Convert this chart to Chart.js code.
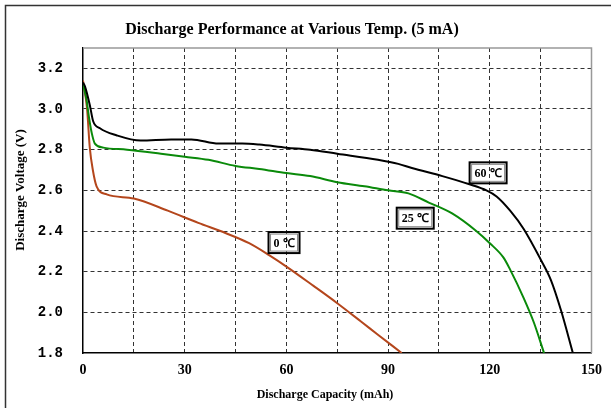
<!DOCTYPE html>
<html>
<head>
<meta charset="utf-8">
<script src="https://cdn.jsdelivr.net/npm/chart.js@4.4.1/dist/chart.umd.min.js"></script>
<style>
  html, body { margin: 0; padding: 0; background: #fff; }
  #wrap { width: 611px; height: 408px; }
</style>
</head>
<body>
<div id="wrap"><canvas id="chart" width="611" height="408"></canvas></div>
<script>
// capacity (mAh) and voltage (V)
let cap60 = [0, 0.6, 2, 3, 5, 10, 17, 26, 32, 40, 47, 52, 60, 67, 75, 87, 93, 97, 106, 114, 119, 122, 126, 130, 135, 138, 141, 144.5]
let volt60 = [3.13, 3.11, 3.02, 2.94, 2.905, 2.87, 2.845, 2.85, 2.85, 2.83, 2.83, 2.825, 2.81, 2.80, 2.78, 2.75, 2.73, 2.71, 2.67, 2.63, 2.60, 2.57, 2.50, 2.41, 2.26, 2.16, 2.01, 1.8]

let cap25 = [0, 1, 1.8, 2.6, 3.5, 6, 13, 23, 30, 37, 45, 52, 60, 67, 75, 83, 90, 96, 102, 109, 116, 120, 124, 126, 130, 133, 136]
let volt25 = [3.12, 3.05, 2.955, 2.88, 2.83, 2.81, 2.80, 2.78, 2.765, 2.75, 2.72, 2.705, 2.685, 2.67, 2.64, 2.62, 2.60, 2.585, 2.54, 2.485, 2.40, 2.34, 2.27, 2.21, 2.07, 1.95, 1.8]

let cap0 = [0, 1.2, 2, 2.9, 4, 7, 15, 25, 34, 42, 49, 55, 60, 68, 75, 82, 87, 94]
let volt0 = [3.14, 3.0, 2.81, 2.70, 2.62, 2.58, 2.56, 2.50, 2.44, 2.39, 2.34, 2.28, 2.225, 2.13, 2.045, 1.955, 1.89, 1.8]

// label boxes: text and anchor in data units
let tags = ["60 \u2103", "25 \u2103", "0 \u2103"]
let tagCap = [119.5, 98, 59.3]
let tagVolt = [2.686, 2.463, 2.343]

function points(xs, ys) {
    return xs.map(function(x, i){ return {x: x, y: ys[i]} })
}

const serif = "'Liberation Serif', 'Times New Roman', serif"

// frame, titles and label boxes
const decor = {
    id: "decor",
    beforeDraw: function(chart) {
        const c = chart.ctx
        c.save()
        c.fillStyle = "#fff"
        c.fillRect(0, 0, chart.width, chart.height)
        c.strokeStyle = "#333"
        c.lineWidth = 1.5
        c.beginPath()
        c.moveTo(5.5, chart.height)
        c.lineTo(5.5, 5.5)
        c.lineTo(chart.width, 5.5)
        c.stroke()
        c.restore()
    },
    afterDraw: function(chart) {
        const c = chart.ctx
        const a = chart.chartArea
        const xs = chart.scales.x, ys = chart.scales.y
        c.save()
        // top / right plot border
        c.strokeStyle = "#999"
        c.lineWidth = 1.5
        c.beginPath()
        c.moveTo(a.left, a.top)
        c.lineTo(a.right, a.top)
        c.lineTo(a.right, a.bottom)
        c.stroke()

        c.fillStyle = "#000"
        c.textAlign = "center"
        c.textBaseline = "middle"
        c.font = "bold 16px " + serif
        c.fillText("Discharge Performance at Various Temp. (5 mA)", 292, 30)

        c.font = "bold 12px " + serif
        c.fillText("Discharge Capacity (mAh)", 325, 395)

        c.save()
        c.font = "bold 13px " + serif
        c.translate(21, 190)
        c.rotate(-Math.PI / 2)
        c.fillText("Discharge Voltage (V)", 0, 0)
        c.restore()

        // label boxes
        c.font = "bold 12px " + serif
        for (let i in tags) {
            const px = xs.getPixelForValue(tagCap[i])
            const py = ys.getPixelForValue(tagVolt[i])
            const w = c.measureText(tags[i]).width + 10
            const h = 21
            c.strokeStyle = "#000"
            c.lineWidth = 2
            c.strokeRect(px - w / 2, py - h / 2, w, h)
            c.strokeStyle = "#888"
            c.lineWidth = 1
            c.strokeRect(px - w / 2 + 2, py - h / 2 + 2, w - 4, h - 4)
            c.fillStyle = "#000"
            c.fillText(tags[i], px, py + 1)
        }
        c.restore()
    }
}

function edgeColor(min, max) {
    return function(ctx) {
        const v = ctx.tick ? ctx.tick.value : null
        if (v === null || Math.abs(v - min) < 1e-6 || Math.abs(v - max) < 1e-6) return "rgba(0,0,0,0)"
        return "#333"
    }
}

new Chart("chart", {
    type: "line",
    data: {
        datasets: [{
            label: "60 \u2103",
            data: points(cap60, volt60),
            borderColor: "#000",
            borderWidth: 2,
            pointRadius: 0,
            cubicInterpolationMode: "monotone"
        }, {
            label: "25 \u2103",
            data: points(cap25, volt25),
            borderColor: "#0a8a0a",
            borderWidth: 2,
            pointRadius: 0,
            cubicInterpolationMode: "monotone"
        }, {
            label: "0 \u2103",
            data: points(cap0, volt0),
            borderColor: "#b4461c",
            borderWidth: 2,
            pointRadius: 0,
            cubicInterpolationMode: "monotone"
        }]
    },
    options: {
        responsive: false,
        animation: false,
        layout: { padding: { top: 48, right: 17, bottom: 0, left: 0 } },
        plugins: {
            legend: { display: false },
            title: { display: false },
            tooltip: { enabled: false }
        },
        scales: {
            x: {
                type: "linear",
                min: 0,
                max: 150,
                afterFit: function(s){ s.height = 55 },
                ticks: {
                    stepSize: 15,
                    padding: 9,
                    color: "#000",
                    font: { family: serif, size: 14, weight: "bold" },
                    maxRotation: 0,
                    autoSkip: false,
                    callback: function(v){ return v % 30 === 0 ? String(v) : "" }
                },
                grid: { color: edgeColor(0, 150), lineWidth: 1, drawTicks: false },
                border: { color: "#000", width: 1.5, dash: [4, 3] }
            },
            y: {
                min: 1.8,
                max: 3.3,
                afterFit: function(s){ s.width = 83 },
                ticks: {
                    stepSize: 0.2,
                    padding: 20,
                    color: "#000",
                    font: { family: "'Liberation Mono', 'Courier New', monospace", size: 14, weight: "bold" },
                    autoSkip: false,
                    callback: function(v){ return Math.abs(v - 3.3) < 1e-6 ? "" : v.toFixed(1) }
                },
                grid: { color: edgeColor(1.8, 3.3), lineWidth: 1, drawTicks: false },
                border: { color: "#000", width: 1.5, dash: [4, 3] }
            }
        }
    },
    plugins: [decor]
});
</script>
</body>
</html>
